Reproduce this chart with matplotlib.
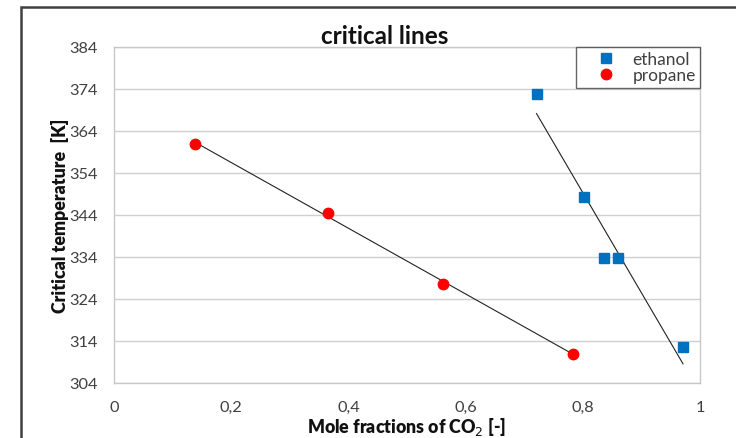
import numpy as np
import matplotlib.pyplot as plt
from matplotlib.patches import Rectangle
from matplotlib.ticker import FuncFormatter

plt.rcParams['font.family'] = ['Lato', 'DejaVu Sans']

# critical points read from the measurements
propane_x = [0.138, 0.366, 0.562, 0.783]
propane_t = [360.9, 344.5, 327.6, 310.9]
ethanol_x = [0.721, 0.802, 0.836, 0.860, 0.971]
ethanol_t = [372.8, 348.3, 333.8, 333.8, 312.6]

x_ticks = [0, 0.2, 0.4, 0.6, 0.8, 1]
y_ticks = [304, 314, 324, 334, 344, 354, 364, 374, 384]

fig = plt.figure(figsize=(7.36, 4.39), dpi=100)
ax = fig.add_axes([0.1549, 0.1253, 0.7962, 0.7654])

# outer chart border (runs off the right and bottom edge)
fig.patches.append(Rectangle((21 / 736, -0.05), 1.2, 1 - 8 / 439 + 0.05,
                             transform=fig.transFigure, fill=False,
                             edgecolor='#404040', linewidth=1.8))

ax.set_xlim(0, 1)
ax.set_ylim(304, 384)
ax.set_xticks(x_ticks)
ax.set_yticks(y_ticks)
ax.xaxis.set_major_formatter(FuncFormatter(lambda v, p: f"{v:g}".replace('.', ',')))
ax.grid(True, axis='y', color='#d0d0d0', linewidth=1.0)
ax.set_axisbelow(True)
ax.tick_params(length=0, labelsize=11.8, labelcolor='#404040')
ax.tick_params(axis='y', pad=12)
ax.tick_params(axis='x', pad=12)
for s in ax.spines.values():
    s.set_color('#c8c8c8')
    s.set_linewidth(1.0)

# linear trend lines
for xs, ts in [(propane_x, propane_t), (ethanol_x, ethanol_t)]:
    k, b = np.polyfit(xs, ts, 1)
    xx = np.array([min(xs), max(xs)])
    ax.plot(xx, k * xx + b, color='#222222', linewidth=0.8, zorder=2)

ax.plot(ethanol_x, ethanol_t, 's', color='#0070c0', markersize=7.5,
        linestyle='none', label='ethanol', zorder=3)
ax.plot(propane_x, propane_t, 'o', color='#ff0000', markersize=7.5,
        linestyle='none', label='propane', zorder=3)

leg = ax.legend(loc='upper right', fontsize=12.5, frameon=True, fancybox=False,
                borderpad=0.25, handletextpad=0.0, labelspacing=0.0,
                handlelength=3.0, borderaxespad=0.0)
leg.get_frame().set_edgecolor('#404040')
leg.get_frame().set_linewidth(1.0)
for t in leg.get_texts():
    t.set_color('#404040')

fig.text(385 / 736, 1 - 36 / 439, 'critical lines', ha='center', va='center',
         fontsize=17.5, fontweight='bold', color='#111111')
ax.set_ylabel('Critical temperature  [K]', fontsize=12.8, fontweight='heavy',
              color='#111111', labelpad=0)
ax.set_xlabel('Mole fractions of CO$_2$ [-]', fontsize=12.8, fontweight='heavy',
              color='#111111', labelpad=1)

fig.savefig('out.png', dpi=100)
